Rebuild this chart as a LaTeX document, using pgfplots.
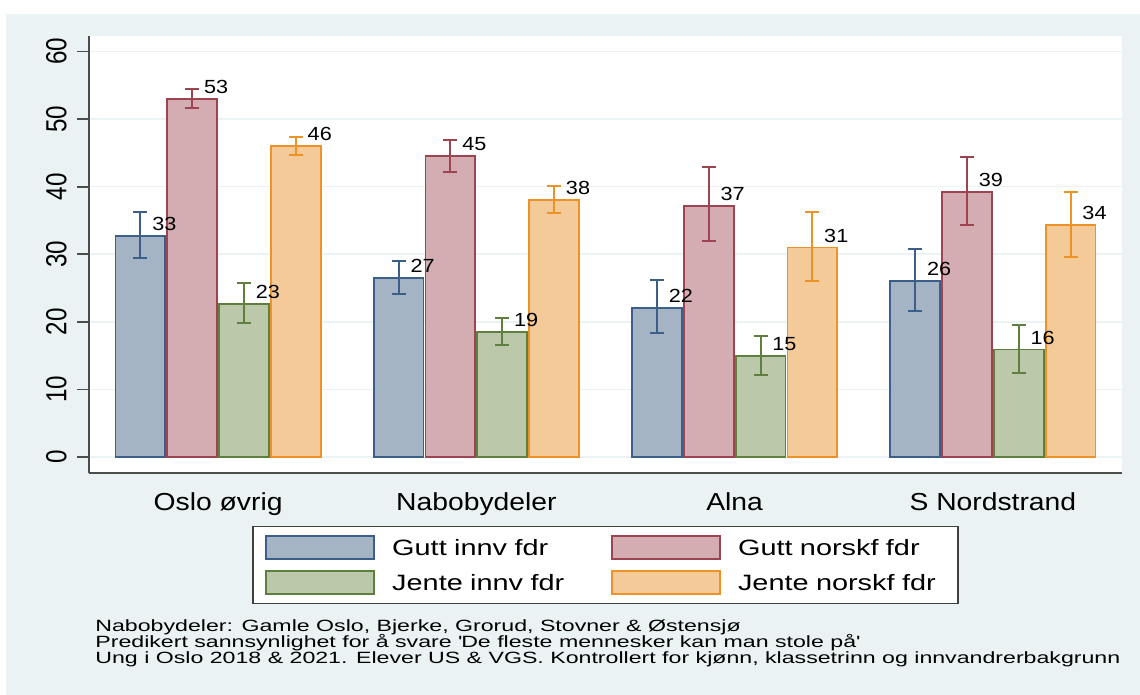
\documentclass[border=0pt]{standalone}
\usepackage{fontspec}
\setmainfont{Liberation Sans}
\newfontfamily\catf{Liberation Sans}[FakeStretch=1.15]
\newfontfamily\legf{Liberation Sans}[FakeStretch=1.30]
\newfontfamily\notef{Liberation Sans}[FakeStretch=1.42]
\newfontfamily\labf{Liberation Sans}[FakeStretch=1.14]
\newfontfamily\tickf{Liberation Sans}
\usepackage{graphicx}
\usepackage{pgfplots}
\pgfplotsset{compat=1.18}
\definecolor{bgc}{HTML}{EAF2F3}
\definecolor{bluef}{HTML}{A4B4C5}
\definecolor{blued}{HTML}{3B5F88}
\definecolor{redf}{HTML}{D3ADB1}
\definecolor{redd}{HTML}{9E4450}
\definecolor{greenf}{HTML}{BBC9AA}
\definecolor{greend}{HTML}{5E7F3E}
\definecolor{orangef}{HTML}{F4CB98}
\definecolor{oranged}{HTML}{EC9226}
\pgfplotsset{
  errstyle/.style={error bars/.cd, y dir=both, y explicit, error mark=|,
    error bar style={color=#1, line width=1pt},
    error mark options={color=#1, line width=1pt, mark size=3.5pt}},
}
\begin{document}
\begin{tikzpicture}
\useasboundingbox (0,0) rectangle (570pt,-347.5pt);
\fill[white] (0,0) rectangle (570pt,-347.5pt);
\fill[bgc] (3pt,-7pt) rectangle (570pt,-347.5pt);
\begin{axis}[
  at={(44.5pt,-236.5pt)}, anchor=south west,
  scale only axis, width=516.5pt, height=218.5pt,
  axis background/.style={fill=white},
  xmin=-0.5, xmax=3.5, ymin=-2.37, ymax=62.3,
  axis x line*=bottom, axis y line*=left,
  axis line style={black!70, line width=0.9pt},
  xtick={0,1,2,3},
  xticklabels={Oslo øvrig, Nabobydeler, Alna, S Nordstrand},
  xtick style={draw=none},
  xticklabel style={font=\catf\fontsize{12.3}{14}\selectfont, inner sep=0pt, yshift=-3.5pt},
  ytick={0,10,...,60},
  yticklabel={\scalebox{1}[1.2]{\tickf\fontsize{12.1}{13}\selectfont\pgfmathprintnumber[assume math mode=true]{\tick}}},
  yticklabel style={rotate=90, anchor=south, inner sep=0pt},
  yticklabel shift=5pt,
  tick align=outside, major tick length=6pt,
  ytick style={black!70, line width=0.9pt},
  ymajorgrids, grid style={bgc, line width=0.8pt},
  ybar, bar width=24.9pt,
  every axis plot/.append style={line width=0.9pt},
  nodes near coords, point meta=explicit symbolic,
  every node near coord/.append style={anchor=west, xshift=5.5pt, yshift=6pt, inner sep=0pt, text=black, font=\labf\fontsize{9.5}{10}\selectfont},
  legend columns=2,
  legend cell align=left,
  legend image code/.code={\draw[#1, line width=0.9pt] (0pt,-5.75pt) rectangle (54pt,5.75pt);},
  legend style={draw=black!75, line width=0.6pt, fill=white,
    at={(0.5,0)}, anchor=north, yshift=-26.5pt,
    inner xsep=6pt, inner ysep=4.2pt, row sep=5.2pt,
    font=\legf\fontsize{11.1}{12}\selectfont,
    nodes={inner sep=0pt, text width=104pt, text height=8pt, text depth=0pt, align=left},
    /tikz/every odd column/.append style={column sep=8.75pt},
    /tikz/every even column/.append style={column sep=5.25pt}},
]
\addplot[fill=bluef, draw=blued, bar shift=-38.85pt, errstyle=blued]
  table[x=x, y=y, y error plus=ep, y error minus=em, meta=lab] {
x y ep em lab
0 32.7 3.5 3.2 33
1 26.5 2.5 2.4 27
2 22.1 4.1 3.7 22
3 26.1 4.7 4.5 26
};
\addlegendentry{Gutt innv fdr}
\addplot[fill=redf, draw=redd, bar shift=-12.95pt, errstyle=redd]
  table[x=x, y=y, y error plus=ep, y error minus=em, meta=lab] {
x y ep em lab
0 53.0 1.5 1.4 53
1 44.5 2.4 2.3 45
2 37.2 5.7 5.2 37
3 39.2 5.2 4.8 39
};
\addlegendentry{Gutt norskf fdr}
\addplot[fill=greenf, draw=greend, bar shift=12.95pt, errstyle=greend]
  table[x=x, y=y, y error plus=ep, y error minus=em, meta=lab] {
x y ep em lab
0 22.6 3.1 2.8 23
1 18.5 2.1 1.9 19
2 14.9 3.0 2.8 15
3 15.9 3.6 3.4 16
};
\addlegendentry{Jente innv fdr}
\addplot[fill=orangef, draw=oranged, bar shift=38.85pt, errstyle=oranged]
  table[x=x, y=y, y error plus=ep, y error minus=em, meta=lab] {
x y ep em lab
0 46.0 1.4 1.3 46
1 38.0 2.1 1.9 38
2 31.0 5.2 4.9 31
3 34.3 4.9 4.7 34
};
\addlegendentry{Jente norskf fdr}
\end{axis}
\node[anchor=base west, inner sep=0pt, font=\notef\fontsize{8.15}{9}\selectfont] at (47.5pt,-315.85pt) {Nabobydeler: Gamle Oslo, Bjerke, Grorud, Stovner \& Østensjø};
\node[anchor=base west, inner sep=0pt, font=\notef\fontsize{8.15}{9}\selectfont] at (47.5pt,-323.7pt) {Predikert sannsynlighet for å svare \textquotesingle De fleste mennesker kan man stole på\textquotesingle};
\node[anchor=base west, inner sep=0pt, font=\notef\fontsize{8.15}{9}\selectfont] at (47.5pt,-331.55pt) {Ung i Oslo 2018 \& 2021. Elever US \& VGS. Kontrollert for kjønn, klassetrinn og innvandrerbakgrunn};
\end{tikzpicture}
\end{document}
